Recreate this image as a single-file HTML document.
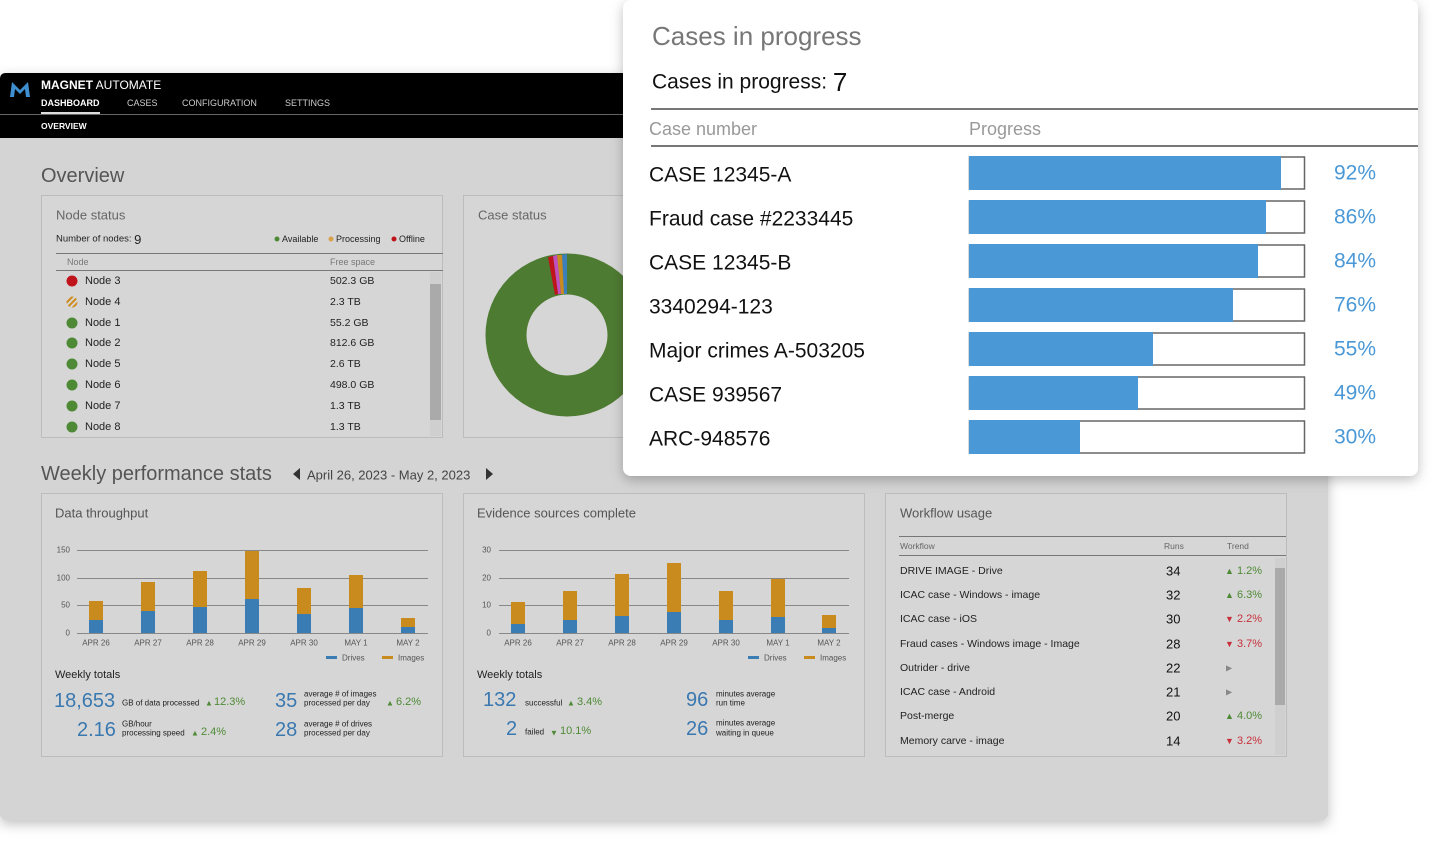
<!DOCTYPE html>
<html><head><meta charset="utf-8"><style>
html,body{margin:0;padding:0;background:#fff;width:1438px;height:841px;overflow:hidden}
svg text{font-family:"Liberation Sans",sans-serif;dominant-baseline:central}
</style></head><body>
<svg width="1438" height="841" viewBox="0 0 1438 841" xmlns="http://www.w3.org/2000/svg">
<defs>
<filter id="sh" x="-10%" y="-10%" width="120%" height="130%"><feDropShadow dx="0" dy="4" stdDeviation="6" flood-color="#000" flood-opacity="0.25"/></filter>
<pattern id="hatch" width="4" height="4" patternUnits="userSpaceOnUse" patternTransform="rotate(45)"><rect width="2" height="4" fill="#d08a1a"/></pattern>
</defs>
<rect x="0" y="73" width="1328" height="747" rx="6" fill="#d4d4d4" filter="url(#sh)"/>
<path d="M0 79 Q0 73 6 73 H1328 V138 H0 Z" fill="#000"/>
<path d="M10 97 L12 82 L20 90 L28 82 L30 97 L26 97 L25 89 L20 94 L15 89 L14 97 Z" fill="#3f8fd0"/>
<text x="41" y="85" fill="#fff" font-size="12"><tspan font-weight="bold">MAGNET</tspan> AUTOMATE</text>
<text x="41" y="103" fill="#fff" font-size="9" font-weight="bold">DASHBOARD</text>
<text x="127" y="103" fill="#ccc" font-size="9">CASES</text>
<text x="182" y="103" fill="#ccc" font-size="9">CONFIGURATION</text>
<text x="285" y="103" fill="#ccc" font-size="9">SETTINGS</text>
<rect x="0" y="114" width="1328" height="1" fill="#666"/>
<rect x="41" y="112" width="59" height="2" fill="#ddd"/>
<text x="41" y="126" fill="#fff" font-size="8.5" font-weight="bold">OVERVIEW</text>
<text x="41" y="176" fill="#555" font-size="20">Overview</text>

<rect x="41.5" y="195.5" width="401" height="242" fill="#d6d6d6" stroke="#bcbcbc"/>
<text x="56" y="215" fill="#666" font-size="13">Node status</text>
<text x="56" y="239" fill="#222" font-size="9.5">Number of nodes: <tspan font-size="13">9</tspan></text>
<circle cx="277" cy="239" r="2.5" fill="#4e8a35"/><text x="282" y="239" font-size="9" fill="#222">Available</text>
<circle cx="331" cy="239" r="2.5" fill="#d9a24a"/><text x="336" y="239" font-size="9" fill="#222">Processing</text>
<circle cx="394" cy="239" r="2.5" fill="#c0141c"/><text x="399" y="239" font-size="9" fill="#222">Offline</text>
<rect x="56" y="253" width="387" height="1" fill="#777"/>
<text x="67" y="262" font-size="9" fill="#777">Node</text><text x="330" y="262" font-size="9" fill="#777">Free space</text>
<rect x="56" y="270" width="387" height="1" fill="#777"/>
<rect x="430" y="272" width="11" height="164" fill="#cfcfcf"/><rect x="430" y="284" width="11" height="136" fill="#aaa"/>
<g font-size="11" fill="#222">
<circle cx="72" cy="281" r="5.5" fill="#c0141c"/><text x="85" y="281">Node 3</text><text x="330" y="281" font-size="10.5">502.3 GB</text>
<circle cx="72" cy="302" r="5.5" fill="url(#hatch)"/><text x="85" y="302">Node 4</text><text x="330" y="302" font-size="10.5">2.3 TB</text>
<circle cx="72" cy="323" r="5.5" fill="#4e8a35"/><text x="85" y="323">Node 1</text><text x="330" y="323" font-size="10.5">55.2 GB</text>
<circle cx="72" cy="343" r="5.5" fill="#4e8a35"/><text x="85" y="343">Node 2</text><text x="330" y="343" font-size="10.5">812.6 GB</text>
<circle cx="72" cy="364" r="5.5" fill="#4e8a35"/><text x="85" y="364">Node 5</text><text x="330" y="364" font-size="10.5">2.6 TB</text>
<circle cx="72" cy="385" r="5.5" fill="#4e8a35"/><text x="85" y="385">Node 6</text><text x="330" y="385" font-size="10.5">498.0 GB</text>
<circle cx="72" cy="406" r="5.5" fill="#4e8a35"/><text x="85" y="406">Node 7</text><text x="330" y="406" font-size="10.5">1.3 TB</text>
<circle cx="72" cy="427" r="5.5" fill="#4e8a35"/><text x="85" y="427">Node 8</text><text x="330" y="427" font-size="10.5">1.3 TB</text>
</g>

<rect x="463.5" y="195.5" width="401" height="242" fill="#d6d6d6" stroke="#bcbcbc"/>
<text x="478" y="215" fill="#666" font-size="13">Case status</text>
<circle cx="567" cy="335" r="61" fill="none" stroke="#4e7b32" stroke-width="41"/>
<path d="M567 254 L567 294 L563 294 L560 255 Z" fill="#3d7fb8"/>
<path d="M562 255 L564 294 L561 294 L557 255 Z" fill="#c98a1e"/>
<path d="M557 255 L561 294 L558 294 L553 256 Z" fill="#c050c0"/>
<path d="M553 256 L558 294 L555 295 L548 257 Z" fill="#c0141c"/>

<text x="41" y="474" fill="#555" font-size="20">Weekly performance stats</text>
<path d="M293 474 L300 468 V480 Z" fill="#333"/>
<text x="307" y="475" fill="#444" font-size="13">April 26, 2023 - May 2, 2023</text>
<path d="M493 474 L486 468 V480 Z" fill="#333"/>

<rect x="41.5" y="493.5" width="401" height="263" fill="#d6d6d6" stroke="#bcbcbc"/>
<text x="55" y="513" fill="#555" font-size="13">Data throughput</text>
<g font-size="8" fill="#555">
<text x="70" y="550" text-anchor="end">150</text><text x="70" y="578" text-anchor="end">100</text><text x="70" y="605" text-anchor="end">50</text><text x="70" y="633" text-anchor="end">0</text>
</g>
<g stroke="#888" stroke-width="1"><line x1="77" y1="550.5" x2="428" y2="550.5"/><line x1="77" y1="578.5" x2="428" y2="578.5"/><line x1="77" y1="605.5" x2="428" y2="605.5"/><line x1="77" y1="633.5" x2="428" y2="633.5"/></g>
<g>
<rect x="89" y="601" width="14" height="19" fill="#c98a1e"/><rect x="89" y="620" width="14" height="13" fill="#3a7db5"/>
<rect x="141" y="582" width="14" height="29" fill="#c98a1e"/><rect x="141" y="611" width="14" height="22" fill="#3a7db5"/>
<rect x="193" y="571" width="14" height="36" fill="#c98a1e"/><rect x="193" y="607" width="14" height="26" fill="#3a7db5"/>
<rect x="245" y="551" width="14" height="48" fill="#c98a1e"/><rect x="245" y="599" width="14" height="34" fill="#3a7db5"/>
<rect x="297" y="588" width="14" height="26" fill="#c98a1e"/><rect x="297" y="614" width="14" height="19" fill="#3a7db5"/>
<rect x="349" y="575" width="14" height="33" fill="#c98a1e"/><rect x="349" y="608" width="14" height="25" fill="#3a7db5"/>
<rect x="401" y="618" width="14" height="9" fill="#c98a1e"/><rect x="401" y="627" width="14" height="6" fill="#3a7db5"/>
</g>
<g font-size="8" fill="#555" text-anchor="middle">
<text x="96" y="643">APR 26</text><text x="148" y="643">APR 27</text><text x="200" y="643">APR 28</text><text x="252" y="643">APR 29</text><text x="304" y="643">APR 30</text><text x="356" y="643">MAY 1</text><text x="408" y="643">MAY 2</text>
</g>
<rect x="326" y="656" width="11" height="3" fill="#3a7db5"/><text x="342" y="658" font-size="8" fill="#555">Drives</text>
<rect x="382" y="656" width="11" height="3" fill="#c98a1e"/><text x="398" y="658" font-size="8" fill="#555">Images</text>
<text x="55" y="675" font-size="11" fill="#222">Weekly totals</text>
<text x="54" y="701" font-size="20" fill="#3a78b0">18,653</text>
<text x="122" y="703" font-size="8" fill="#222">GB of data processed</text>
<text x="205" y="703" font-size="8" fill="#4e8a35">▲</text><text x="214" y="702" font-size="11" fill="#4e8a35">12.3%</text>
<text x="77" y="730" font-size="20" fill="#3a78b0">2.16</text>
<text x="122" y="724" font-size="8" fill="#222">GB/hour</text><text x="122" y="733" font-size="8" fill="#222">processing speed</text>
<text x="191" y="733" font-size="8" fill="#4e8a35">▲</text><text x="201" y="732" font-size="11" fill="#4e8a35">2.4%</text>
<text x="275" y="701" font-size="20" fill="#3a78b0">35</text>
<text x="304" y="694" font-size="8" fill="#222">average # of images</text><text x="304" y="703" font-size="8" fill="#222">processed per day</text>
<text x="386" y="703" font-size="8" fill="#4e8a35">▲</text><text x="396" y="702" font-size="11" fill="#4e8a35">6.2%</text>
<text x="275" y="730" font-size="20" fill="#3a78b0">28</text>
<text x="304" y="724" font-size="8" fill="#222">average # of drives</text><text x="304" y="733" font-size="8" fill="#222">processed per day</text>

<rect x="463.5" y="493.5" width="401" height="263" fill="#d6d6d6" stroke="#bcbcbc"/>
<text x="477" y="513" fill="#555" font-size="13">Evidence sources complete</text>
<g font-size="8" fill="#555">
<text x="491" y="550" text-anchor="end">30</text><text x="491" y="578" text-anchor="end">20</text><text x="491" y="605" text-anchor="end">10</text><text x="491" y="633" text-anchor="end">0</text>
</g>
<g stroke="#888"><line x1="499" y1="550.5" x2="849" y2="550.5"/><line x1="499" y1="578.5" x2="849" y2="578.5"/><line x1="499" y1="605.5" x2="849" y2="605.5"/><line x1="499" y1="633.5" x2="849" y2="633.5"/></g>
<g>
<rect x="511" y="602" width="14" height="22" fill="#c98a1e"/><rect x="511" y="624" width="14" height="9" fill="#3a7db5"/>
<rect x="563" y="591" width="14" height="29" fill="#c98a1e"/><rect x="563" y="620" width="14" height="13" fill="#3a7db5"/>
<rect x="615" y="574" width="14" height="42" fill="#c98a1e"/><rect x="615" y="616" width="14" height="17" fill="#3a7db5"/>
<rect x="667" y="563" width="14" height="49" fill="#c98a1e"/><rect x="667" y="612" width="14" height="21" fill="#3a7db5"/>
<rect x="719" y="591" width="14" height="29" fill="#c98a1e"/><rect x="719" y="620" width="14" height="13" fill="#3a7db5"/>
<rect x="771" y="579" width="14" height="38" fill="#c98a1e"/><rect x="771" y="617" width="14" height="16" fill="#3a7db5"/>
<rect x="822" y="615" width="14" height="13" fill="#c98a1e"/><rect x="822" y="628" width="14" height="5" fill="#3a7db5"/>
</g>
<g font-size="8" fill="#555" text-anchor="middle">
<text x="518" y="643">APR 26</text><text x="570" y="643">APR 27</text><text x="622" y="643">APR 28</text><text x="674" y="643">APR 29</text><text x="726" y="643">APR 30</text><text x="778" y="643">MAY 1</text><text x="829" y="643">MAY 2</text>
</g>
<rect x="748" y="656" width="11" height="3" fill="#3a7db5"/><text x="764" y="658" font-size="8" fill="#555">Drives</text>
<rect x="804" y="656" width="11" height="3" fill="#c98a1e"/><text x="820" y="658" font-size="8" fill="#555">Images</text>
<text x="477" y="675" font-size="11" fill="#222">Weekly totals</text>
<text x="483" y="700" font-size="20" fill="#3a78b0">132</text>
<text x="525" y="703" font-size="8" fill="#222">successful</text>
<text x="567" y="703" font-size="8" fill="#4e8a35">▲</text><text x="577" y="702" font-size="11" fill="#4e8a35">3.4%</text>
<text x="506" y="729" font-size="20" fill="#3a78b0">2</text>
<text x="525" y="732" font-size="8" fill="#222">failed</text>
<text x="550" y="733" font-size="8" fill="#4e8a35">▼</text><text x="560" y="731" font-size="11" fill="#4e8a35">10.1%</text>
<text x="686" y="700" font-size="20" fill="#3a78b0">96</text>
<text x="716" y="694" font-size="8" fill="#222">minutes average</text><text x="716" y="703" font-size="8" fill="#222">run time</text>
<text x="686" y="729" font-size="20" fill="#3a78b0">26</text>
<text x="716" y="723" font-size="8" fill="#222">minutes average</text><text x="716" y="733" font-size="8" fill="#222">waiting in queue</text>

<rect x="885.5" y="493.5" width="401" height="263" fill="#d6d6d6" stroke="#bcbcbc"/>
<text x="900" y="513" fill="#555" font-size="13">Workflow usage</text>
<rect x="899" y="536" width="387" height="1" fill="#777"/>
<text x="900" y="546" font-size="8.5" fill="#666">Workflow</text><text x="1164" y="546" font-size="8.5" fill="#666">Runs</text><text x="1227" y="546" font-size="8.5" fill="#666">Trend</text>
<rect x="899" y="555" width="387" height="1" fill="#777"/>
<rect x="1275" y="558" width="10" height="197" fill="#cfcfcf"/><rect x="1275" y="568" width="10" height="137" fill="#aaa"/>
<g font-size="10.5" fill="#222">
<text x="900" y="571">DRIVE IMAGE - Drive</text><text x="900" y="595">ICAC case - Windows - image</text><text x="900" y="619">ICAC case - iOS</text><text x="900" y="644">Fraud cases - Windows image - Image</text><text x="900" y="668">Outrider - drive</text><text x="900" y="692">ICAC case - Android</text><text x="900" y="716">Post-merge</text><text x="900" y="741">Memory carve - image</text>
</g>
<g font-size="13" fill="#111">
<text x="1166" y="571">34</text><text x="1166" y="595">32</text><text x="1166" y="619">30</text><text x="1166" y="644">28</text><text x="1166" y="668">22</text><text x="1166" y="692">21</text><text x="1166" y="716">20</text><text x="1166" y="741">14</text>
</g>
<g font-size="11">
<text x="1225" y="571" font-size="9" fill="#4e8a35">▲</text><text x="1237" y="571" fill="#4e8a35">1.2%</text>
<text x="1225" y="595" font-size="9" fill="#4e8a35">▲</text><text x="1237" y="595" fill="#4e8a35">6.3%</text>
<text x="1225" y="619" font-size="9" fill="#c8303c">▼</text><text x="1237" y="619" fill="#c8303c">2.2%</text>
<text x="1225" y="644" font-size="9" fill="#c8303c">▼</text><text x="1237" y="644" fill="#c8303c">3.7%</text>
<text x="1226" y="668" font-size="8" fill="#888">▶</text>
<text x="1226" y="692" font-size="8" fill="#888">▶</text>
<text x="1225" y="716" font-size="9" fill="#4e8a35">▲</text><text x="1237" y="716" fill="#4e8a35">4.0%</text>
<text x="1225" y="741" font-size="9" fill="#c8303c">▼</text><text x="1237" y="741" fill="#c8303c">3.2%</text>
</g>

<rect x="623" y="0" width="795" height="476" rx="8" fill="#fff" filter="url(#sh)"/>
<text x="652" y="36" font-size="26" fill="#777">Cases in progress</text>
<text x="652" y="82" font-size="21" fill="#111">Cases in progress: <tspan font-size="26">7</tspan></text>
<rect x="651" y="108" width="767" height="2" fill="#777"/>
<text x="649" y="129" font-size="18" fill="#999">Case number</text>
<text x="969" y="129" font-size="18" fill="#999">Progress</text>
<rect x="651" y="145" width="767" height="2" fill="#777"/>
<g font-size="21" fill="#111">
<text x="649" y="175">CASE 12345-A</text><text x="649" y="219">Fraud case #2233445</text><text x="649" y="263">CASE 12345-B</text><text x="649" y="307">3340294-123</text><text x="649" y="351">Major crimes A-503205</text><text x="649" y="395">CASE 939567</text><text x="649" y="439">ARC-948576</text>
</g>
<g fill="#fff" stroke="#666" stroke-width="1.5">
<rect x="969.5" y="157" width="335" height="32"/><rect x="969.5" y="201" width="335" height="32"/><rect x="969.5" y="245" width="335" height="32"/><rect x="969.5" y="289" width="335" height="32"/><rect x="969.5" y="333" width="335" height="32"/><rect x="969.5" y="377" width="335" height="32"/><rect x="969.5" y="421" width="335" height="32"/>
</g>
<g fill="#4a98d6">
<rect x="969" y="156" width="312" height="34"/><rect x="969" y="200" width="297" height="34"/><rect x="969" y="244" width="289" height="34"/><rect x="969" y="288" width="264" height="34"/><rect x="969" y="332" width="184" height="34"/><rect x="969" y="376" width="169" height="34"/><rect x="969" y="420" width="111" height="34"/>
</g>
<g font-size="21" fill="#4a98d6">
<text x="1334" y="173">92%</text><text x="1334" y="217">86%</text><text x="1334" y="261">84%</text><text x="1334" y="305">76%</text><text x="1334" y="349">55%</text><text x="1334" y="393">49%</text><text x="1334" y="437">30%</text>
</g>
</svg>
</body></html>
